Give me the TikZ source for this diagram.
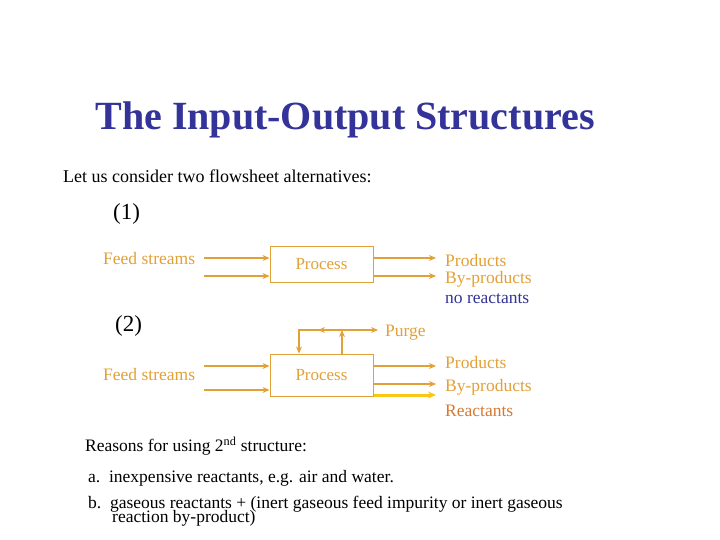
\documentclass[tikz,border=0pt]{standalone}
\usepackage{fontspec}
\setmainfont{Liberation Serif}
\usetikzlibrary{positioning, arrows.meta}
\definecolor{feedorange}{RGB}{226,160,56}
\definecolor{titleblue}{RGB}{51,51,153}
\definecolor{reactbrown}{RGB}{214,120,48}
\begin{document}
\begin{tikzpicture}[x=1pt,y=-1pt]
\tikzstyle{every node}=[inner sep=0pt]
\tikzstyle{flow}=[draw=feedorange,line width=1.6pt,-{Stealth[length=7pt,width=6pt]}]
\tikzstyle{procbox}=[draw=feedorange,line width=1pt,minimum width=103pt,text=feedorange,font=\fontsize{17}{17}\selectfont]
\tikzstyle{lbl}=[anchor=west,text=feedorange,font=\fontsize{17.5}{17.5}\selectfont]
\useasboundingbox (0,0) rectangle (720,540);

\node[text=titleblue,font=\bfseries\fontsize{40}{40}\selectfont] (title) at (345,120) {The Input-Output Structures};
\node[anchor=west,font=\fontsize{18}{18}\selectfont] (intro) at (63,176) {Let us consider two flowsheet alternatives:};

% alternative 1
\node[anchor=west,font=\fontsize{23}{23}\selectfont] (one) at (113,214) {(1)};
\node[procbox,minimum height=36pt] (proc1) at (321.5,264) {Process};
\node[lbl] (feed1) at (103,259) {Feed streams};
\coordinate (in1a) at (204,258);
\coordinate (in1b) at (204,276);
\node[lbl] (prod1) at (445,261) {Products};
\node[lbl] (byp1) at (445,279) {By-products};
\node[lbl,text=titleblue] (nore1) at (445,299) {no reactants};
\draw[flow] (in1a) -- (in1a -| proc1.west);
\draw[flow] (in1b) -- (in1b -| proc1.west);
\draw[flow] (proc1.east |- in1a) -- (436,258);
\draw[flow] (proc1.east |- in1b) -- (436,276);

% alternative 2
\node[anchor=west,font=\fontsize{23}{23}\selectfont] (two) at (115,326) {(2)};
\node[procbox,minimum height=42pt] (proc2) at (321.5,375) {Process};
\node[lbl] (feed2) at (103,375) {Feed streams};
\coordinate (in2a) at (204,366);
\coordinate (in2b) at (204,390);
\node[lbl] (prod2) at (445,363) {Products};
\node[lbl] (byp2) at (445,387) {By-products};
\node[lbl,text=reactbrown] (react2) at (445,411) {Reactants};
\node[lbl] (purge) at (385,333) {Purge};
\coordinate (split) at (342,330);
\coordinate (back) at (299,330);
\draw[flow] (in2a) -- (in2a -| proc2.west);
\draw[flow] (in2b) -- (in2b -| proc2.west);
\draw[flow] (proc2.east |- in2a) -- (436,366);
\draw[flow] (proc2.east |- 0,384) -- (436,384);
\draw[draw={rgb,255:red,250;green,200;blue,20},line width=3pt,-{Stealth[length=8pt,width=7pt]}] (proc2.east |- 0,395) -- (436,395);
\draw[flow] (split |- proc2.north) -- (split);
\draw[flow] (split) -- (378,330);
\draw[flow] (split) -- (318,330);
\draw[flow] (320,330) -- (back) -- (back |- proc2.north);

% reasons
\node[anchor=west,font=\fontsize{17.5}{17.5}\selectfont] (reasons) at (85,446) {Reasons for using 2\textsuperscript{nd} structure:};
\node[anchor=west,font=\fontsize{17.5}{17.5}\selectfont] (ra) at (88,478) {a.\ \ inexpensive reactants, e.g. air and water.};
\node[anchor=west,font=\fontsize{17.5}{17.5}\selectfont] (rb) at (88,504) {b.\ \ gaseous reactants + (inert gaseous feed impurity or inert gaseous};
\node[anchor=west,font=\fontsize{17.5}{17.5}\selectfont] (rb2) at (112,518) {reaction by-product)};
\end{tikzpicture}
\end{document}
